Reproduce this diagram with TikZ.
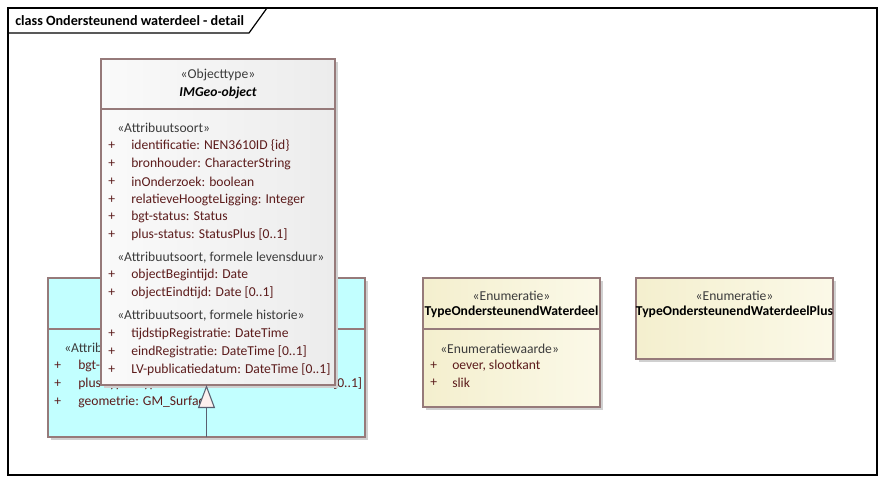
\documentclass[tikz,border=0pt]{standalone}
\usepackage{fontspec}
\setmainfont{Carlito}
\usepackage{tikz}
\usetikzlibrary{arrows.meta}

\definecolor{boxline}{RGB}{150,122,122}
\definecolor{boxshadow}{RGB}{208,208,208}
\definecolor{attrcol}{RGB}{92,28,28}
\definecolor{stereocol}{RGB}{60,60,60}
\definecolor{objleft}{RGB}{250,250,250}
\definecolor{objright}{RGB}{236,236,236}
\definecolor{enumleft}{RGB}{244,239,206}
\definecolor{enumright}{RGB}{251,249,232}
\definecolor{cyanfill}{RGB}{194,255,255}
\definecolor{genline}{RGB}{90,96,112}
\definecolor{genfill}{RGB}{253,240,238}

\tikzset{
  attr/.style={anchor=west, inner sep=0.75pt, text=attrcol, font=\fontsize{10.2}{11}\selectfont},
  plus/.style={anchor=west, inner sep=0.75pt, text=attrcol, font=\fontsize{10.2}{11}\selectfont},
  stereo/.style={inner sep=0.75pt, text=stereocol, font=\fontsize{10.2}{11}\selectfont},
  classname/.style={inner sep=0.75pt, text=black, font=\fontsize{10.2}{11}\selectfont\bfseries},
}

\begin{document}
\begin{tikzpicture}[x=0.75pt,y=0.75pt,yscale=-1,xscale=1]
\useasboundingbox (0,0) rectangle (886,483);

%Frame [id:frame]
\draw [line width=0.9pt]  (8,8) rectangle (877,475) ;
\draw [line width=0.9pt]  (8,33) -- (249,33) -- (267,8) ;
% Text Node
\draw (14,20.5) node (title) [anchor=west] [inner sep=0.75pt]  [font=\fontsize{10.6}{12}\selectfont\bfseries]  {class Ondersteunend waterdeel - detail};

%Shape: Rectangle [id:ondwd] 
\fill [boxshadow]  (51,281) rectangle (368,440) ;
\draw [draw=boxline, fill=cyanfill, line width=0.9pt]  (48,278) rectangle (365,437) ;
\draw [draw=boxline, line width=0.9pt]  (48,329) -- (365,329) ;
\coordinate (ondwd-s) at (206.5,437) ;
% Text Node
\draw (63,348) node (ondwd-st) [attr] [text=stereocol]  {«Attribuutsoort»};
\draw (53,366) node [plus]  {+};
\draw (77,366) node (ondwd-a1) [attr]  {bgt-type: TypeOndersteunendWaterdeel};
\draw (53,384) node [plus]  {+};
\draw (77,384) node (ondwd-a2) [attr]  {plus-type: TypeOndersteunendWaterdeelPlus [0..1]};
\draw (53,402) node [plus]  {+};
\draw (77,402) node (ondwd-a3) [attr]  {geometrie: GM\_Surface};

%Shape: Rectangle [id:imgeo] 
\fill [boxshadow]  (104,62) rectangle (338,388) ;
\shade [left color=objleft, right color=objright]  (101,59) rectangle (335,385) ;
\draw [draw=boxline, line width=0.9pt]  (101,59) rectangle (335,385) ;
\draw [draw=boxline, line width=0.9pt]  (101,109) -- (335,109) ;
\coordinate (imgeo-s) at (206.5,385) ;
% Text Node
\draw (218,75) node (imgeo-st) [stereo]  {«Objecttype»};
\draw (218,93) node (imgeo-nm) [classname]  {\itshape IMGeo-object};
% Text Node
\draw (116,128) node [attr] [text=stereocol]  {«Attribuutsoort»};
\draw (107,146) node [plus]  {+};
\draw (130,146) node [attr]  {identificatie: NEN3610ID \{id\}};
\draw (107,164) node [plus]  {+};
\draw (130,164) node [attr]  {bronhouder: CharacterString};
\draw (107,182) node [plus]  {+};
\draw (130,182) node [attr]  {inOnderzoek: boolean};
\draw (107,200) node [plus]  {+};
\draw (130,200) node [attr]  {relatieveHoogteLigging: Integer};
\draw (107,217) node [plus]  {+};
\draw (130,217) node [attr]  {bgt-status: Status};
\draw (107,235) node [plus]  {+};
\draw (130,235) node [attr]  {plus-status: StatusPlus [0..1]};
% Text Node
\draw (116,258) node [attr] [text=stereocol]  {«Attribuutsoort, formele levensduur»};
\draw (107,275) node [plus]  {+};
\draw (130,275) node [attr]  {objectBegintijd: Date};
\draw (107,293) node [plus]  {+};
\draw (130,293) node [attr]  {objectEindtijd: Date [0..1]};
% Text Node
\draw (116,316) node [attr] [text=stereocol]  {«Attribuutsoort, formele historie»};
\draw (107,334) node [plus]  {+};
\draw (130,334) node [attr]  {tijdstipRegistratie: DateTime};
\draw (107,352) node [plus]  {+};
\draw (130,352) node [attr]  {eindRegistratie: DateTime [0..1]};
\draw (107,370) node [plus]  {+};
\draw (130,370) node [attr]  {LV-publicatiedatum: DateTime [0..1]};

%Generalization [id:gen1] 
\draw [draw=genline, line width=0.8pt, -{Triangle[length=17.25pt,width=12.75pt,fill=genfill,line width=0.8pt]}]  (ondwd-s) -- (imgeo-s) ;

%Shape: Rectangle [id:typewd] 
\fill [boxshadow]  (426,281) rectangle (603,410) ;
\shade [left color=enumleft, right color=enumright]  (423,278) rectangle (600,407) ;
\draw [draw=boxline, line width=0.9pt]  (423,278) rectangle (600,407) ;
\draw [draw=boxline, line width=0.9pt]  (423,329) -- (600,329) ;
% Text Node
\draw (511.5,296) node (typewd-st) [stereo]  {«Enumeratie»};
\draw (511.5,312) node (typewd-nm) [classname]  {TypeOndersteunendWaterdeel};
\draw (439,349) node [attr] [text=stereocol]  {«Enumeratiewaarde»};
\draw (429,366) node [plus]  {+};
\draw (451,366) node [attr]  {oever, slootkant};
\draw (429,383) node [plus]  {+};
\draw (451,383) node [attr]  {slik};

%Shape: Rectangle [id:typewdplus] 
\fill [boxshadow]  (639,281) rectangle (836,362) ;
\shade [left color=enumleft, right color=enumright]  (636,278) rectangle (833,359) ;
\draw [draw=boxline, line width=0.9pt]  (636,278) rectangle (833,359) ;
% Text Node
\draw (734.5,296) node (typewdplus-st) [stereo]  {«Enumeratie»};
\draw (734.5,312) node (typewdplus-nm) [classname]  {TypeOndersteunendWaterdeelPlus};

\end{tikzpicture}
\end{document}
